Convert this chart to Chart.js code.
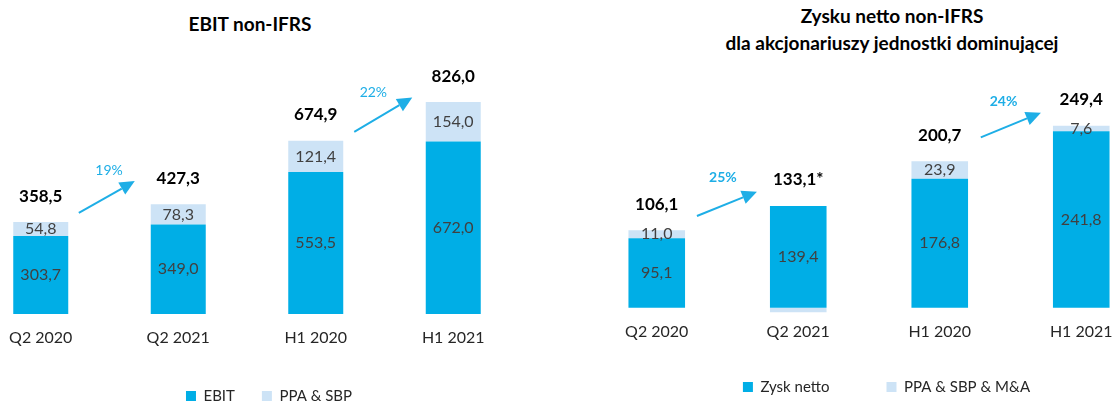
<!DOCTYPE html>
<html lang="pl">
<head>
<meta charset="utf-8">
<title>EBIT i zysk netto non-IFRS</title>
<script src="https://cdn.jsdelivr.net/npm/chart.js@4.4.0/dist/chart.umd.min.js"></script>
<style>
    html, body { margin: 0; padding: 0; width: 1114px; height: 403px; overflow: hidden; background: #fff; }
    .title { position: absolute; font: bold 19px Lato, sans-serif; line-height: 27px; text-align: center; color: #000; }
    .chart-box { position: absolute; top: 0; height: 414px; }
</style>
</head>
<body>
<div class="title" style="left:100px; top:10px; width:300px;">EBIT non-IFRS</div>
<div class="title" style="left:642px; top:2px; width:500px;">Zysku netto non-IFRS<br>dla akcjonariuszy jednostki dominującej</div>
<div class="chart-box" style="left:-28px; width:594px;"><canvas id="ebitChart"></canvas></div>
<div class="chart-box" style="left:586px; width:601px;"><canvas id="zyskChart"></canvas></div>

<script>
// dane (mln PLN)
const categories = ["Q2 2020", "Q2 2021", "H1 2020", "H1 2021"];

const ebitValues = [303.7, 349.0, 553.5, 672.0];
const ebitPpaSbp = [54.8, 78.3, 121.4, 154.0];
const ebitGrowth = ["19%", "22%"];

const zyskValues = [95.1, 139.4, 176.8, 241.8];
const zyskPpaSbpMa = [11.0, -6.3, 23.9, 7.6];
const zyskTotalNotes = ["", "*", "", ""];
const zyskGrowth = ["25%", "24%"];

// strzałki wzrostu: [indeks kategorii, wartość na osi]
const ebitArrows = [
    { from: [0.277, 394], to: [0.684, 518], text: [0.497, 561] },
    { from: [2.28, 710], to: [2.702, 844], text: [2.419, 864] }
];
const zyskArrows = [
    { from: [0.284, 125.6], to: [0.708, 158.9], text: [0.468, 178] },
    { from: [2.29, 233.4], to: [2.715, 267], text: [2.451, 283] }
];

const MAIN_COLOR = "#00AEE6";
const LIGHT_COLOR = "#CDE3F6";
const ARROW_COLOR = "#1EAEE6";

function fmt(v) {
    return v.toFixed(1).replace(".", ",");
}

// etykiety w słupkach, sumy nad słupkami i strzałki
const barLabelsPlugin = {
    id: "barLabels",
    afterDatasetsDraw(chart, args, opts) {
        const ctx = chart.ctx;
        ctx.save();
        ctx.textAlign = "center";
        ctx.textBaseline = "middle";

        ctx.font = "16px Lato";
        ctx.fillStyle = "#404040";
        chart.data.datasets.forEach((ds, i) => {
            chart.getDatasetMeta(i).data.forEach((bar, j) => {
                if (ds.data[j] <= 0) return;
                ctx.fillText(fmt(ds.data[j]), bar.x, (bar.y + bar.base) / 2);
            });
        });

        ctx.font = "bold 17px Lato";
        ctx.fillStyle = "#000";
        chart.data.labels.forEach((_, j) => {
            let total = 0, top = Infinity, x = 0;
            chart.data.datasets.forEach((ds, i) => {
                const bar = chart.getDatasetMeta(i).data[j];
                total += ds.data[j];
                top = Math.min(top, bar.y, bar.base);
                x = bar.x;
            });
            ctx.fillText(fmt(total) + (opts.notes ? opts.notes[j] : ""), x, top - 26);
        });

        const xs = chart.scales.x, ys = chart.scales.y;
        const step = xs.getPixelForValue(1) - xs.getPixelForValue(0);
        const px = idx => xs.getPixelForValue(0) + idx * step;

        (opts.arrows || []).forEach((a, k) => {
            const x1 = px(a.from[0]), y1 = ys.getPixelForValue(a.from[1]);
            const x2 = px(a.to[0]), y2 = ys.getPixelForValue(a.to[1]);
            const ang = Math.atan2(y2 - y1, x2 - x1);
            const head = 15, half = 7;
            const bx = x2 - head * Math.cos(ang), by = y2 - head * Math.sin(ang);

            ctx.strokeStyle = ARROW_COLOR;
            ctx.fillStyle = ARROW_COLOR;
            ctx.lineWidth = 2;
            ctx.beginPath();
            ctx.moveTo(x1, y1);
            ctx.lineTo(bx, by);
            ctx.stroke();

            ctx.beginPath();
            ctx.moveTo(x2, y2);
            ctx.lineTo(bx - half * Math.sin(ang), by + half * Math.cos(ang));
            ctx.lineTo(bx + half * Math.sin(ang), by - half * Math.cos(ang));
            ctx.closePath();
            ctx.fill();

            ctx.font = opts.growthFont;
            ctx.fillText(opts.growth[k], px(a.text[0]), ys.getPixelForValue(a.text[1]));
        });
        ctx.restore();
    }
};

function makeChart(id, s) {
    return new Chart(document.getElementById(id), {
        type: "bar",
        data: {
            labels: categories,
            datasets: [
                { label: s.names[0], data: s.main, backgroundColor: MAIN_COLOR },
                { label: s.names[1], data: s.extra, backgroundColor: LIGHT_COLOR }
            ]
        },
        options: {
            responsive: true,
            maintainAspectRatio: false,
            animation: false,
            layout: { padding: { top: 40, bottom: s.padBottom, left: 0, right: 0 } },
            datasets: { bar: { barPercentage: 0.8, categoryPercentage: 0.5 } },
            scales: {
                x: {
                    stacked: true,
                    grid: { display: false, drawTicks: false },
                    border: { display: false },
                    ticks: { color: "#262626", font: { family: "Lato", size: 16 }, padding: s.tickPad },
                    afterFit: a => { a.height = s.xHeight; }
                },
                y: {
                    stacked: true,
                    position: "right",
                    min: s.min,
                    max: s.max,
                    ticks: { display: false },
                    grid: { display: false, drawTicks: false },
                    border: { display: false },
                    afterFit: a => { a.width = s.yWidth; }
                }
            },
            plugins: {
                legend: {
                    position: "bottom",
                    labels: {
                        boxWidth: 10,
                        boxHeight: 10,
                        padding: 27,
                        color: "#262626",
                        font: { family: "Lato", size: 15 },
                        // dodatkowy odstęp po pierwszej pozycji legendy
                        generateLabels: chart => Chart.defaults.plugins.legend.labels.generateLabels(chart)
                            .map((item, i) => ({ ...item, text: item.text + (i === 0 ? s.legendSpacer : "") }))
                    }
                },
                tooltip: { enabled: false },
                barLabels: { notes: s.notes, growth: s.growth, arrows: s.arrows, growthFont: s.growthFont }
            }
        },
        plugins: [barLabelsPlugin]
    });
}

makeChart("ebitChart", {
    names: ["EBIT", "PPA & SBP"],
    main: ebitValues,
    extra: ebitPpaSbp,
    growth: ebitGrowth,
    arrows: ebitArrows,
    growthFont: "14px Lato",
    min: 0, max: 1068,
    padBottom: 0.5, tickPad: 14, xHeight: 47.5, yWidth: 44, legendSpacer: ""
});

makeChart("zyskChart", {
    names: ["Zysk netto", "PPA & SBP & M&A"],
    main: zyskValues,
    extra: zyskPpaSbpMa,
    notes: zyskTotalNotes,
    growth: zyskGrowth,
    arrows: zyskArrows,
    growthFont: "bold 14px Lato",
    min: -10, max: 366.7,
    padBottom: 9.5, tickPad: 7, xHeight: 37.5, yWidth: 35, legendSpacer: "\u2003\u2003\u2002"
});
</script>
</body>
</html>
